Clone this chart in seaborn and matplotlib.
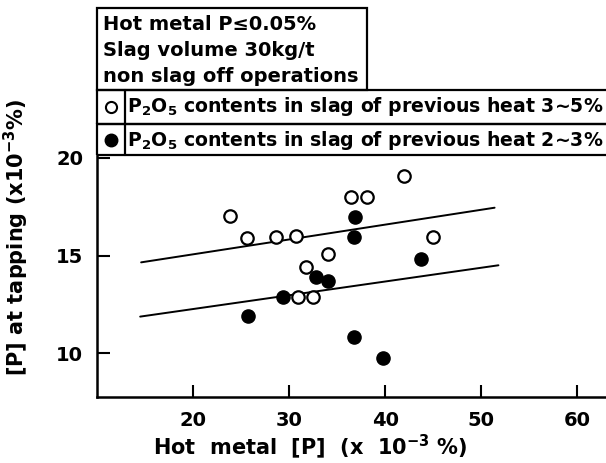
import seaborn as sns
import pandas as pd
import matplotlib.pyplot as plt
from matplotlib.patches import Rectangle
from matplotlib.lines import Line2D

# open circles: P2O5 in slag of previous heat 3~5 %
hi_x = [23.9, 25.6, 28.6, 30.75, 31.8, 34.1, 30.9, 32.5, 36.5, 38.1, 42.0, 45.0]
hi_y = [17.0, 15.9, 15.95, 16.0, 14.4, 15.1, 12.9, 12.9, 18.0, 18.0, 19.1, 15.95]
# filled circles: P2O5 in slag of previous heat 2~3 %
lo_x = [25.7, 29.35, 32.85, 34.1, 36.9, 36.8, 36.8, 39.8, 43.7]
lo_y = [11.9, 12.85, 13.9, 13.7, 16.95, 15.95, 10.85, 9.75, 14.8]
# trend line end points
hi_line_x = [14.6, 51.4]
hi_line_y = [14.65, 17.45]
lo_line_x = [14.5, 51.8]
lo_line_y = [11.87, 14.5]

x_ticks = [20, 30, 40, 50, 60]
y_ticks = [10, 15, 20]

sns.set_theme(style="ticks")
plt.rcParams['font.family'] = ['DejaVu Sans']
plt.rcParams['font.weight'] = 'bold'
plt.rcParams['mathtext.fontset'] = 'dejavusans'
plt.rcParams['text.color'] = 'black'
plt.rcParams['axes.labelcolor'] = 'black'

hi = pd.DataFrame({"x": hi_x, "y": hi_y})
lo = pd.DataFrame({"x": lo_x, "y": lo_y})

fig = plt.figure(figsize=(6.06, 4.63), dpi=100)
ax = fig.add_axes([0.160, 0.1425, 0.840, 0.5227])

ax.plot(hi_line_x, hi_line_y, color="black", lw=1.4, zorder=1)
ax.plot(lo_line_x, lo_line_y, color="black", lw=1.4, zorder=1)
sns.scatterplot(data=hi, x="x", y="y", ax=ax, s=80, facecolor="white",
                edgecolor="black", linewidth=1.6, zorder=3)
sns.scatterplot(data=lo, x="x", y="y", ax=ax, s=90, color="black",
                edgecolor="black", linewidth=1.0, zorder=3)

ax.set_xlim(10, 63)
ax.set_ylim(7.75, 20.15)
ax.set_xticks(x_ticks)
ax.set_yticks(y_ticks)
ax.tick_params(direction="in", length=9, width=1.5, labelsize=14, pad=10,
               colors="black")
for s in ["left", "bottom"]:
    ax.spines[s].set_linewidth(1.8)
    ax.spines[s].set_color("black")
ax.spines["right"].set_visible(False)
ax.spines["top"].set_visible(False)
ax.set_xlabel("Hot  metal  [P]  (x  10$^{\\mathbf{-3}}$ %)", fontsize=15, fontweight="bold")
ax.set_ylabel("[P] at tapping (x10$^{\\mathbf{-3}}$%)", fontsize=15, fontweight="bold")
ax.xaxis.set_label_coords(0.42, -0.145)
ax.yaxis.set_label_coords(-0.13, 0.66)

# legend boxes above the plot, in figure pixels
W, H = 606, 463
def fx(p): return p / W
def fy(p): return 1 - p / H

def box(x0, y0, x1, y1):
    fig.add_artist(Rectangle((fx(x0), fy(y1)), fx(x1) - fx(x0), fy(y0) - fy(y1),
                             transform=fig.transFigure, fill=False,
                             edgecolor="black", linewidth=1.6))

box(97, 8, 367, 90)
box(97, 90, 620, 124)
box(97, 124, 620, 155)
fig.add_artist(Line2D([fx(125), fx(125)], [fy(90), fy(155)],
                      transform=fig.transFigure, color="black", lw=1.6))

notes = ["Hot metal P≤0.05%", "Slag volume 30kg/t", "non slag off operations"]
for i, t in enumerate(notes):
    fig.text(fx(103), fy(24 + i * 26), t, fontsize=14, fontweight="bold", va="center")

fig.add_artist(Line2D([fx(111)], [fy(107)], transform=fig.transFigure, marker="o",
                      markersize=8, markerfacecolor="white", markeredgecolor="black",
                      markeredgewidth=1.5))
fig.add_artist(Line2D([fx(111)], [fy(140)], transform=fig.transFigure, marker="o",
                      markersize=9, markerfacecolor="black", markeredgecolor="black"))
row_text = "P$_\\mathbf{2}$O$_\\mathbf{5}$ contents in slag of previous heat {}"
fig.text(fx(127), fy(107), row_text.replace("{}", "3∼5%"),
         fontsize=13.6, fontweight="bold", va="center")
fig.text(fx(127), fy(140), row_text.replace("{}", "2∼3%"),
         fontsize=13.6, fontweight="bold", va="center")

fig.savefig("out.png", dpi=100)
